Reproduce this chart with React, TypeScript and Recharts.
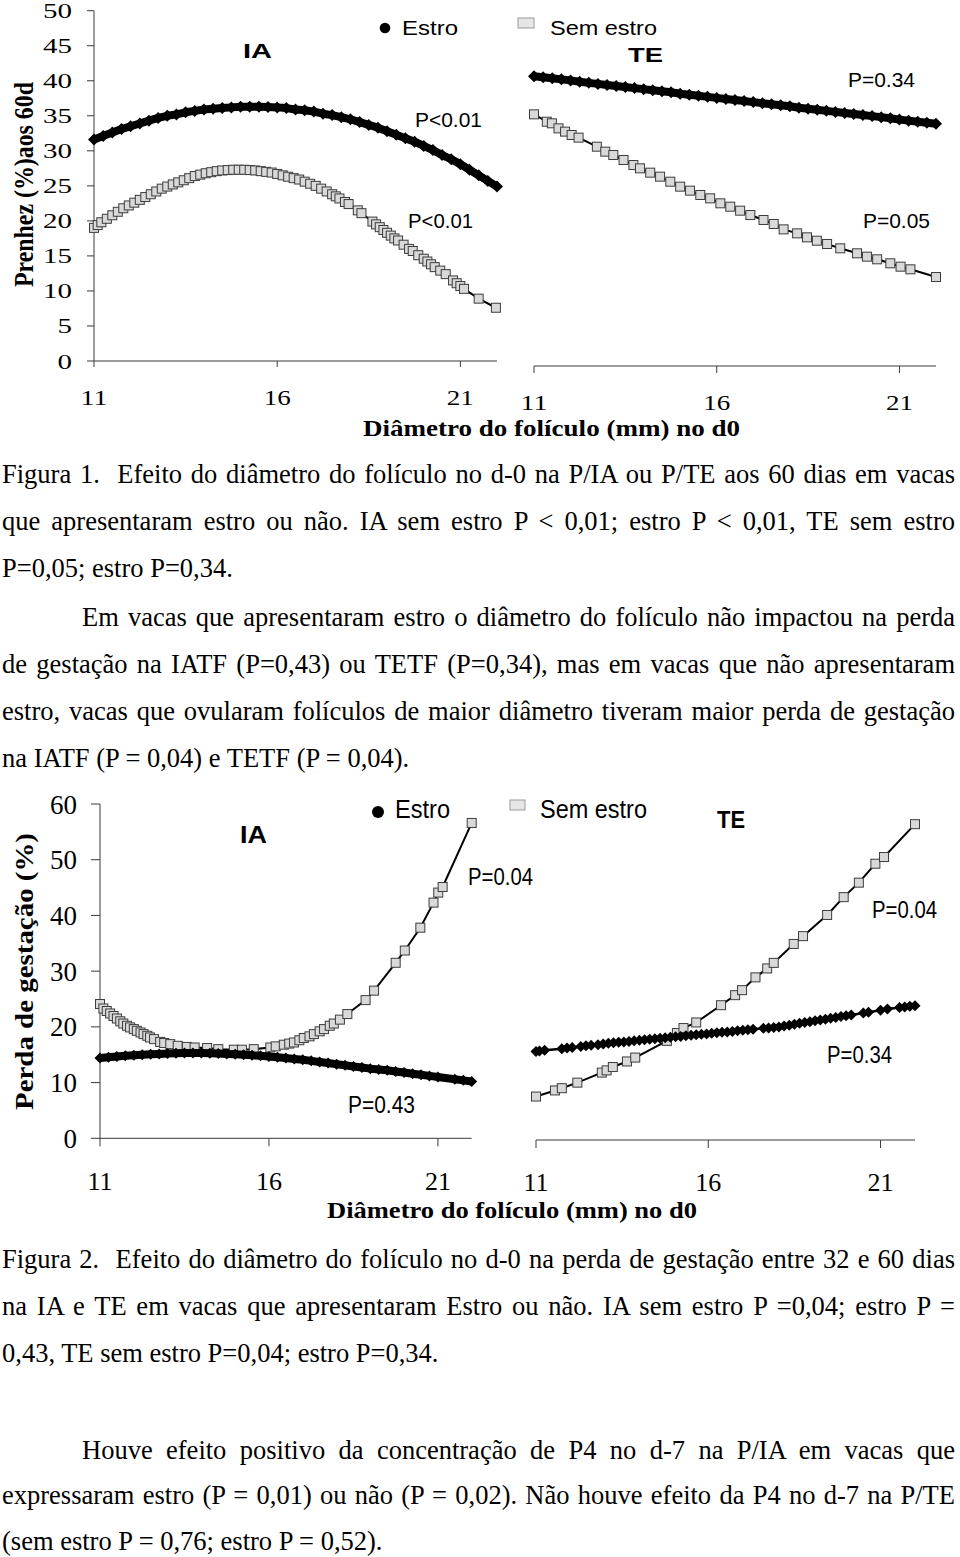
import React from "react";
import { ScatterChart, Scatter, XAxis, YAxis } from "recharts";

type Pt = [number, number];

// Figura 1 - Prenhez (%) aos 60d, IA (left) and TE (right)
const fig1IaEstro: Pt[] = [
  [11, 31.6], [11.25, 32.1], [11.5, 32.6], [11.75, 33.1], [12, 33.5], [12.25, 33.9],
  [12.5, 34.3], [12.75, 34.7], [13, 35.0], [13.25, 35.2], [13.5, 35.5], [13.75, 35.7],
  [14, 35.9], [14.25, 36.0], [14.5, 36.1], [14.75, 36.2], [15, 36.3], [15.25, 36.3],
  [15.5, 36.3], [15.75, 36.25], [16, 36.2], [16.25, 36.1], [16.5, 35.9], [16.75, 35.8],
  [17, 35.6], [17.25, 35.3], [17.5, 35.1], [17.75, 34.8], [18, 34.5], [18.25, 34.1],
  [18.5, 33.7], [18.75, 33.3], [19, 32.8], [19.25, 32.3], [19.5, 31.8], [19.75, 31.3],
  [20, 30.7], [20.25, 30.1], [20.5, 29.4], [20.75, 28.8], [21, 28.1], [21.25, 27.3],
  [21.5, 26.5], [21.75, 25.7], [22, 24.9],
];

const fig1IaSemEstro: Pt[] = [
  [11, 19.0], [11.1, 19.4], [11.2, 19.8], [11.35, 20.3], [11.5, 20.8], [11.65, 21.3],
  [11.8, 21.8], [11.95, 22.2], [12.1, 22.6], [12.25, 23.0], [12.4, 23.4], [12.55, 23.8],
  [12.7, 24.2], [12.85, 24.6], [13, 24.9], [13.15, 25.2], [13.3, 25.5], [13.45, 25.8],
  [13.6, 26.1], [13.75, 26.4], [13.9, 26.6], [14.05, 26.8], [14.2, 26.95], [14.35, 27.1],
  [14.5, 27.2], [14.65, 27.25], [14.8, 27.3], [14.95, 27.3], [15.1, 27.3], [15.25, 27.25],
  [15.4, 27.2], [15.55, 27.1], [15.7, 27.0], [15.85, 26.9], [16, 26.7], [16.15, 26.5],
  [16.3, 26.3], [16.45, 26.1], [16.6, 25.9], [16.75, 25.6], [16.9, 25.3], [17.05, 25.0],
  [17.2, 24.6], [17.35, 24.2], [17.5, 23.8], [17.6, 23.5], [17.7, 23.2], [17.85, 22.7],
  [17.95, 22.4], [18.2, 21.5], [18.3, 21.1], [18.6, 19.9], [18.7, 19.5], [18.8, 19.1],
  [18.9, 18.7], [19, 18.3], [19.1, 17.9], [19.2, 17.5], [19.3, 17.2], [19.45, 16.6],
  [19.6, 16.0], [19.7, 15.7], [19.85, 15.1], [20, 14.6], [20.1, 14.2], [20.2, 13.8],
  [20.3, 13.4], [20.45, 12.9], [20.6, 12.4], [20.8, 11.5], [20.9, 11.1], [21, 10.7],
  [21.1, 10.3], [21.5, 8.9], [21.97, 7.6],
];

const fig1TeEstro: Pt[] = [
  [11, 41.4], [11.25, 41.25], [11.5, 41.1], [11.75, 40.95], [12, 40.8], [12.25, 40.6],
  [12.5, 40.45], [12.75, 40.3], [13, 40.15], [13.25, 40.0], [13.5, 39.85], [13.75, 39.7],
  [14, 39.55], [14.25, 39.4], [14.5, 39.25], [14.75, 39.1], [15, 38.9], [15.25, 38.75],
  [15.5, 38.6], [15.75, 38.45], [16, 38.3], [16.25, 38.15], [16.5, 38.0], [16.75, 37.85],
  [17, 37.7], [17.25, 37.55], [17.5, 37.4], [17.75, 37.25], [18, 37.1], [18.25, 36.9],
  [18.5, 36.75], [18.75, 36.6], [19, 36.45], [19.25, 36.3], [19.5, 36.15], [19.75, 36.0],
  [20, 35.85], [20.25, 35.7], [20.5, 35.55], [20.75, 35.4], [21, 35.2], [21.25, 35.05],
  [21.5, 34.9], [21.75, 34.75], [22, 34.6],
];

const fig1TeSemEstro: Pt[] = [
  [11, 35.95], [11.35, 34.9], [11.49, 34.67], [11.67, 33.95], [11.85, 33.48], [12.03, 33.0],
  [12.22, 32.62], [12.72, 31.33], [12.95, 30.62], [13.17, 30.14], [13.45, 29.43], [13.72, 28.71],
  [13.9, 28.24], [14.18, 27.62], [14.45, 27.05], [14.73, 26.33], [15, 25.62], [15.27, 25.05],
  [15.55, 24.43], [15.82, 23.95], [16.1, 23.24], [16.37, 22.76], [16.64, 22.19], [16.92, 21.57],
  [17.28, 20.86], [17.56, 20.29], [17.83, 19.52], [18.2, 18.95], [18.47, 18.38], [18.74, 17.9],
  [19.02, 17.43], [19.38, 16.81], [19.84, 16.1], [20.11, 15.62], [20.39, 15.24], [20.75, 14.67],
  [21.03, 14.19], [21.3, 13.81], [22, 12.71],
];

// Figura 2 - Perda de gestação (%), IA (left) and TE (right)
const fig2IaEstro: Pt[] = [
  [11, 14.4], [11.25, 14.55], [11.5, 14.7], [11.75, 14.8], [12, 14.9], [12.25, 15.0],
  [12.5, 15.1], [12.75, 15.15], [13, 15.2], [13.25, 15.25], [13.5, 15.3], [13.75, 15.3],
  [14, 15.3], [14.25, 15.25], [14.5, 15.2], [14.75, 15.15], [15, 15.1], [15.25, 15.0],
  [15.5, 14.9], [15.75, 14.8], [16, 14.7], [16.25, 14.55], [16.5, 14.4], [16.75, 14.25],
  [17, 14.1], [17.25, 13.9], [17.5, 13.7], [17.75, 13.5], [18, 13.3], [18.25, 13.1],
  [18.5, 12.9], [18.75, 12.7], [19, 12.5], [19.25, 12.35], [19.5, 12.2], [19.75, 12.0],
  [20, 11.8], [20.25, 11.6], [20.5, 11.4], [20.75, 11.2], [21, 11.0], [21.5, 10.6],
  [21.75, 10.4], [22, 10.2],
];

const fig2IaSemEstro: Pt[] = [
  [11, 24.1], [11.1, 23.3], [11.2, 22.85], [11.3, 22.4], [11.4, 21.95], [11.5, 21.5],
  [11.6, 21.0], [11.69, 20.6], [11.8, 20.2], [11.89, 19.9], [12, 19.6], [12.09, 19.3],
  [12.2, 19.0], [12.29, 18.7], [12.4, 18.4], [12.48, 18.1], [12.6, 17.8], [12.78, 17.3],
  [12.9, 17.1], [13.08, 16.9], [13.3, 16.6], [13.57, 16.4], [13.8, 16.3], [14.17, 16.2],
  [14.5, 16.0], [14.96, 15.9], [15.2, 15.9], [15.55, 16.0], [16.04, 16.3], [16.2, 16.5],
  [16.44, 16.8], [16.6, 17.0], [16.74, 17.2], [16.9, 17.6], [17.03, 18.0], [17.2, 18.3],
  [17.33, 18.7], [17.5, 19.2], [17.63, 19.6], [17.8, 20.2], [17.92, 20.6], [18.1, 21.3],
  [18.32, 22.3], [18.86, 24.8], [19.11, 26.5], [19.75, 31.5], [20.02, 33.7], [20.48, 37.8],
  [20.87, 42.3], [21.01, 44.1], [21.14, 45.1], [22, 56.6],
];

const fig2TeEstro: Pt[] = [
  [11, 15.9], [11.1, 16.0], [11.25, 16.1], [11.75, 16.4], [11.9, 16.5], [12.05, 16.6],
  [12.3, 16.8], [12.45, 16.9], [12.6, 17.0], [12.8, 17.1], [12.95, 17.25], [13.1, 17.35],
  [13.25, 17.45], [13.4, 17.55], [13.55, 17.6], [13.7, 17.7], [13.85, 17.8], [14, 17.9],
  [14.15, 18.0], [14.3, 18.1], [14.45, 18.2], [14.6, 18.25], [14.75, 18.35], [14.9, 18.45],
  [15.05, 18.55], [15.2, 18.6], [15.35, 18.7], [15.5, 18.8], [15.65, 18.9], [15.8, 19.0],
  [15.95, 19.05], [16.1, 19.15], [16.25, 19.25], [16.4, 19.35], [16.55, 19.4], [16.7, 19.5],
  [16.85, 19.6], [17, 19.7], [17.15, 19.8], [17.3, 19.9], [17.6, 20.05], [17.75, 20.1],
  [17.9, 20.2], [18.05, 20.3], [18.2, 20.45], [18.35, 20.6], [18.5, 20.8], [18.65, 20.95],
  [18.8, 21.1], [18.95, 21.25], [19.1, 21.4], [19.25, 21.55], [19.4, 21.7], [19.55, 21.85],
  [19.7, 22.0], [19.85, 22.15], [20, 22.3], [20.15, 22.45], [20.5, 22.8], [20.65, 22.95],
  [21, 23.3], [21.2, 23.5], [21.55, 23.8], [21.7, 23.9], [21.85, 24.0], [22, 24.1],
];

const fig2TeSemEstro: Pt[] = [
  [11, 7.8], [11.55, 8.9], [11.75, 9.3], [12.2, 10.3], [12.91, 12.1], [13.05, 12.5],
  [13.23, 13.1], [13.64, 14.1], [13.88, 14.8], [14.8, 17.8], [15.09, 19.2], [15.28, 20.1],
  [15.65, 21.1], [16.37, 24.2], [16.78, 26.0], [16.98, 26.9], [17.37, 29.2], [17.71, 30.8],
  [17.9, 31.8], [18.48, 35.2], [18.75, 36.6], [19.45, 40.4], [19.93, 43.6], [20.37, 46.2],
  [20.85, 49.6], [21.1, 50.8], [22, 56.7],
];

const xTicks = [11, 16, 21];
const fig1YTicks = [0, 5, 10, 15, 20, 25, 30, 35, 40, 45, 50];
const fig2YTicks = [0, 10, 20, 30, 40, 50, 60];

const rows = (pts: Pt[]) => pts.map(([x, y]) => ({ x, y }));

const SERIF = "'Liberation Serif', 'Times New Roman', serif";
const SANS = "'Liberation Sans', Arial, sans-serif";
const AXIS = "#3a3a3a";

const diamond = (s: number) => (props: any) => {
  const { cx, cy } = props;
  if (cx == null || cy == null) return <g />;
  return <path d={`M${cx},${cy - s}L${cx + s},${cy}L${cx},${cy + s}L${cx - s},${cy}Z`} fill="#000" />;
};

const square = (props: any) => {
  const { cx, cy } = props;
  if (cx == null || cy == null) return <g />;
  return <rect x={cx - 4.5} y={cy - 4.5} width={9} height={9} fill="#d9d9d9" stroke="#3c3c3c" strokeWidth={1} />;
};

// figure 1 tick labels look stretched sideways, so fix their width
const Fig1YTick = ({ x, y, payload }: any) => {
  const s = String(payload.value);
  return (
    <text x={x} y={y + 7.5} textAnchor="end" fontFamily={SERIF} fontSize={21} fill="#000"
      textLength={14.5 * s.length} lengthAdjust="spacingAndGlyphs">{s}</text>
  );
};

const Fig1XTick = ({ x, y, payload }: any) => (
  <text x={x} y={y} textAnchor="middle" fontFamily={SERIF} fontSize={21} fill="#000"
    textLength={27} lengthAdjust="spacingAndGlyphs">{String(payload.value)}</text>
);

const Fig2YTick = ({ x, y, payload }: any) => (
  <text x={x} y={y + 9.5} textAnchor="end" fontFamily={SERIF} fontSize={27} fill="#000">
    {String(payload.value)}
  </text>
);

const Fig2XTick = ({ x, y, payload }: any) => (
  <text x={x} y={y} textAnchor="middle" fontFamily={SERIF} fontSize={26} fill="#000">
    {String(payload.value)}
  </text>
);

const axisStyle = { stroke: AXIS, strokeWidth: 1 };

function Panel(props: {
  left: number; top: number; width: number; height: number;
  margin: { top: number; right: number; bottom: number; left: number };
  yMax: number; yTicks: number[]; showY: boolean; yWidth: number;
  xHeight: number; xTickSize: number; xTickMargin: number; yTickSize: number; yTickMargin: number;
  xTick: any; yTick: any;
  estro: Pt[]; sem: Pt[]; estroLine: number; diamondSize: number; estroOnTop: boolean;
}) {
  const estro = (
    <Scatter key="estro" data={rows(props.estro)} shape={diamond(props.diamondSize)}
      line={{ stroke: "#000", strokeWidth: props.estroLine, strokeLinejoin: "round" }}
      isAnimationActive={false} />
  );
  const sem = (
    <Scatter key="sem" data={rows(props.sem)} shape={square}
      line={{ stroke: "#000", strokeWidth: 2 }} isAnimationActive={false} />
  );
  return (
    <div style={{ position: "absolute", left: props.left, top: props.top }}>
      <ScatterChart width={props.width} height={props.height} margin={props.margin}>
        <XAxis type="number" dataKey="x" domain={[11, 22]} ticks={xTicks} interval={0}
          height={props.xHeight} tickSize={props.xTickSize}
          tickMargin={props.xTickMargin} tick={props.xTick} axisLine={axisStyle} tickLine={axisStyle} />
        <YAxis type="number" dataKey="y" domain={[0, props.yMax]} ticks={props.yTicks} interval={0}
          hide={!props.showY} width={props.yWidth} tickSize={props.yTickSize}
          tickMargin={props.yTickMargin} tick={props.yTick} axisLine={axisStyle} tickLine={axisStyle} />
        {props.estroOnTop ? [sem, estro] : [estro, sem]}
      </ScatterChart>
    </div>
  );
}

// one line of the page text, placed by its baseline
const FS = 26.5;
function TextLine({ base, left, text, justify }: { base: number; left: number; text: string; justify: boolean }) {
  return (
    <div style={{
      position: "absolute", top: base - 0.8375 * FS, left, width: 955 - left,
      fontFamily: SERIF, fontSize: FS, lineHeight: `${FS}px`, color: "#000",
      whiteSpace: "nowrap", textAlign: justify ? "justify" : "left",
      textAlignLast: justify ? "justify" : "left",
    }}>{text}</div>
  );
}

const caption1 = [
  "Figura 1.\u00a0 Efeito do diâmetro do folículo no d-0 na P/IA ou P/TE aos 60 dias em vacas",
  "que apresentaram estro ou não. IA sem estro P < 0,01; estro P < 0,01, TE sem estro",
  "P=0,05; estro P=0,34.",
];
const para1 = [
  "Em vacas que apresentaram estro o diâmetro do folículo não impactou na perda",
  "de gestação na IATF (P=0,43) ou TETF (P=0,34), mas em vacas que não apresentaram",
  "estro, vacas que ovularam folículos de maior diâmetro tiveram maior perda de gestação",
  "na IATF (P = 0,04) e TETF (P = 0,04).",
];
const caption2 = [
  "Figura 2.\u00a0 Efeito do diâmetro do folículo no d-0 na perda de gestação entre 32 e 60 dias",
  "na IA e TE em vacas que apresentaram Estro ou não. IA sem estro P =0,04; estro P =",
  "0,43, TE sem estro P=0,04; estro P=0,34.",
];
const para2 = [
  "Houve efeito positivo da concentração de P4 no d-7 na P/IA em vacas que",
  "expressaram estro (P = 0,01) ou não (P = 0,02). Não houve efeito da P4 no d-7 na P/TE",
  "(sem estro P = 0,76; estro P = 0,52).",
];

function Block({ lines, first, indent, step = 47 }: { lines: string[]; first: number; indent: boolean; step?: number }) {
  return (
    <>
      {lines.map((t, i) => (
        <TextLine key={i} base={first + i * step} left={indent && i === 0 ? 82 : 2} text={t}
          justify={i < lines.length - 1} />
      ))}
    </>
  );
}

const Lbl = ({ x, y, w, size, bold, serif, children }: any) => (
  <text x={x} y={y} fontSize={size} fontWeight={bold ? "bold" : "normal"} fontFamily={serif ? SERIF : SANS}
    fill="#000" textLength={w} lengthAdjust="spacingAndGlyphs">{children}</text>
);

export default function App() {
  return (
    <div style={{ position: "absolute", left: 0, top: 0, width: 960, height: 1557, background: "#fff", overflow: "hidden" }}>
      <Panel left={0} top={0} width={520} height={440}
        margin={{ top: 10.7, right: 23, bottom: 0, left: 0 }}
        yMax={50} yTicks={fig1YTicks} showY yWidth={94}
        xHeight={79} xTickSize={6} xTickMargin={38} yTickSize={7} yTickMargin={15}
        xTick={Fig1XTick} yTick={Fig1YTick}
        estro={fig1IaEstro} sem={fig1IaSemEstro} estroLine={8} diamondSize={6} estroOnTop={false} />
      <Panel left={510} top={0} width={450} height={440}
        margin={{ top: 16, right: 24, bottom: 0, left: 24 }}
        yMax={50} yTicks={fig1YTicks} showY={false} yWidth={0}
        xHeight={74} xTickSize={7} xTickMargin={37} yTickSize={7} yTickMargin={15}
        xTick={Fig1XTick} yTick={Fig1YTick}
        estro={fig1TeEstro} sem={fig1TeSemEstro} estroLine={8} diamondSize={6} estroOnTop={false} />
      <Panel left={0} top={780} width={500} height={440}
        margin={{ top: 24, right: 28.3, bottom: 0, left: 0 }}
        yMax={60} yTicks={fig2YTicks} showY yWidth={100}
        xHeight={81.7} xTickSize={8} xTickMargin={44} yTickSize={9} yTickMargin={14}
        xTick={Fig2XTick} yTick={Fig2YTick}
        estro={fig2IaEstro} sem={fig2IaSemEstro} estroLine={8} diamondSize={5.5} estroOnTop />
      <Panel left={500} top={780} width={460} height={440}
        margin={{ top: 25.8, right: 45, bottom: 0, left: 36 }}
        yMax={60} yTicks={fig2YTicks} showY={false} yWidth={0}
        xHeight={80} xTickSize={8} xTickMargin={43} yTickSize={9} yTickMargin={14}
        xTick={Fig2XTick} yTick={Fig2YTick}
        estro={fig2TeEstro} sem={fig2TeSemEstro} estroLine={2.5} diamondSize={5.5} estroOnTop />

      <svg width={960} height={1557} style={{ position: "absolute", left: 0, top: 0, pointerEvents: "none" }}>
        {/* Figura 1 */}
        <Lbl x={243} y={58} w={29} size={21} bold>IA</Lbl>
        <Lbl x={628} y={62} w={35} size={21} bold>TE</Lbl>
        <circle cx={385} cy={28} r={5.3} fill="#000" />
        <Lbl x={402} y={35} w={56} size={21}>Estro</Lbl>
        <rect x={518} y={18} width={16} height={10} fill="#e6e6e6" stroke="#9a9a9a" />
        <Lbl x={550} y={35} w={107} size={21}>Sem estro</Lbl>
        <Lbl x={415} y={127} w={67} size={21}>P&lt;0.01</Lbl>
        <Lbl x={408} y={228} w={65} size={21}>P&lt;0.01</Lbl>
        <Lbl x={848} y={87} w={67} size={21}>P=0.34</Lbl>
        <Lbl x={863} y={228} w={67} size={21}>P=0.05</Lbl>
        <Lbl x={363} y={436} w={377} size={24} bold serif>Diâmetro do folículo (mm) no d0</Lbl>
        <text transform="translate(33,184.5) rotate(-90)" textAnchor="middle" fontFamily={SERIF}
          fontWeight="bold" fontSize={28} textLength={205} lengthAdjust="spacingAndGlyphs">Prenhez (%)aos 60d</text>

        {/* Figura 2 */}
        <Lbl x={240} y={843} w={27} size={23} bold>IA</Lbl>
        <Lbl x={717} y={828} w={28} size={23} bold>TE</Lbl>
        <circle cx={378} cy={812} r={6} fill="#000" />
        <Lbl x={395} y={818} w={55} size={25}>Estro</Lbl>
        <rect x={510} y={800} width={15} height={10} fill="#e6e6e6" stroke="#9a9a9a" />
        <Lbl x={540} y={818} w={107} size={25}>Sem estro</Lbl>
        <Lbl x={468} y={885} w={65} size={24}>P=0.04</Lbl>
        <Lbl x={348} y={1113} w={67} size={24}>P=0.43</Lbl>
        <Lbl x={872} y={918} w={65} size={24}>P=0.04</Lbl>
        <Lbl x={827} y={1063} w={65} size={24}>P=0.34</Lbl>
        <Lbl x={327} y={1218} w={370} size={24} bold serif>Diâmetro do folículo (mm) no d0</Lbl>
        <text transform="translate(33,971.5) rotate(-90)" textAnchor="middle" fontFamily={SERIF}
          fontWeight="bold" fontSize={26} textLength={277} lengthAdjust="spacingAndGlyphs">Perda de gestação (%)</text>
      </svg>

      <Block lines={caption1} first={483} indent={false} />
      <Block lines={para1} first={626} indent />
      <Block lines={caption2} first={1268} indent={false} />
      <Block lines={para2} first={1459} indent step={45.5} />
    </div>
  );
}
